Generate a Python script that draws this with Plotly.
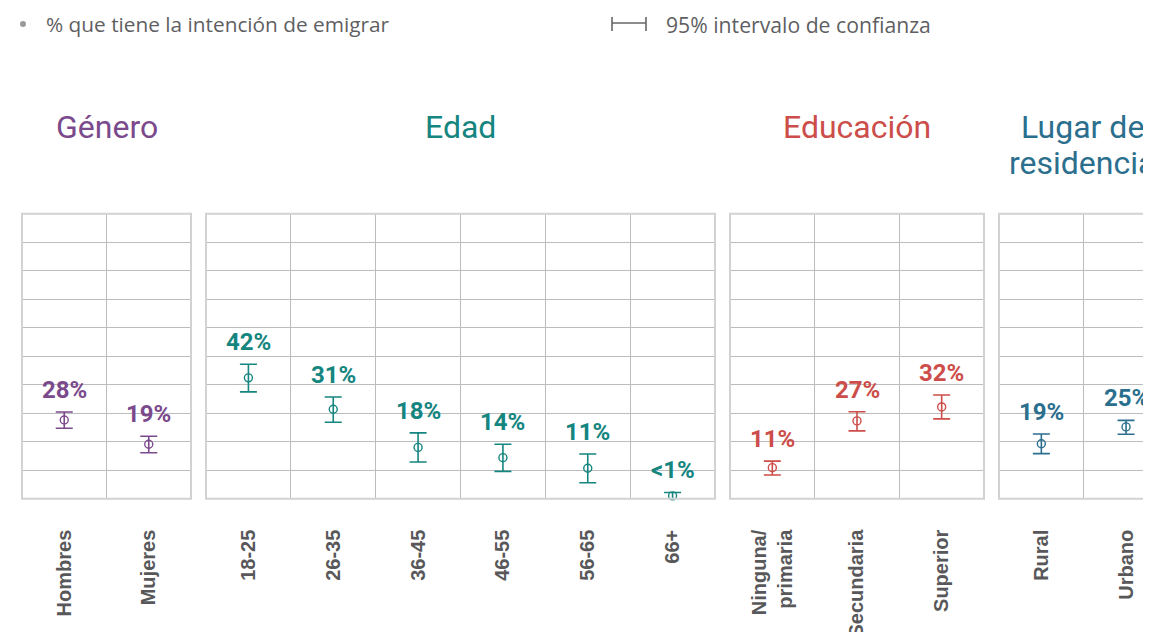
import plotly.graph_objects as go

PAGE_W, PAGE_H = 1151, 632
OFF = 8  # compensates the page's default body margin
W, H = PAGE_W + OFF, PAGE_H

# ---------------- data ----------------
group_titles = ["Género", "Edad", "Educación", "Lugar de residencia"]
group_colors = ["#7b4a8c", "#14857f", "#cc4d49", "#2b6f8e"]

cat_genero = ["Hombres", "Mujeres"]
val_genero = [27.6, 19.1]
low_genero = [24.7, 16.1]
high_genero = [30.4, 21.9]
lab_genero = ["28%", "19%"]

cat_edad = ["18-25", "26-35", "36-45", "46-55", "56-65", "66+"]
val_edad = [42.4, 31.4, 18.0, 14.4, 10.7, 1.0]
low_edad = [37.5, 26.8, 12.9, 9.6, 5.6, 0.0]
high_edad = [47.2, 35.7, 23.1, 19.1, 15.7, 2.2]
lab_edad = ["42%", "31%", "18%", "14%", "11%", "<1%"]

cat_educ = ["Ninguna/<br>primaria", "Secundaria", "Superior"]
val_educ = [10.9, 27.3, 32.2]
low_educ = [8.3, 23.8, 28.0]
high_educ = [13.2, 30.5, 36.4]
lab_educ = ["11%", "27%", "32%"]

cat_lugar = ["Rural", "Urbano"]
val_lugar = [19.3, 25.2]
low_lugar = [15.8, 22.6]
high_lugar = [22.7, 27.5]
lab_lugar = ["19%", "25%"]

legend_point = "% que tiene la intención de emigrar"
legend_ci = "95% intervalo de confianza"

# ---------------- layout geometry (page pixels) ----------------
panels_px = [(22, 191), (206, 715), (730, 984), (999, 1169)]
plot_top, plot_bot = 213.7, 498.7
col_w = 84.7
VIS_W = PAGE_W  # visible right edge in page pixels

groups = [
    (cat_genero, val_genero, low_genero, high_genero, lab_genero),
    (cat_edad, val_edad, low_edad, high_edad, lab_edad),
    (cat_educ, val_educ, low_educ, high_educ, lab_educ),
    (cat_lugar, val_lugar, low_lugar, high_lugar, lab_lugar),
]

def px(x):
    return (x - OFF) / W

def py(y):
    return 1 - (y - OFF) / H

fig = go.Figure()
annotations = []
shapes = []
border_col = "#d2d2d2"
grid_col = "#bcbcbd"

ydom = [py(plot_bot), py(plot_top)]

for i, ((cats, vals, lows, highs, labs), (x0, x1), title, col) in enumerate(
        zip(groups, panels_px, group_titles, group_colors)):
    n = len(cats)
    idx = list(range(n))
    xa = "x" if i == 0 else f"x{i+1}"
    ya = "y" if i == 0 else f"y{i+1}"
    xr = x1 if x1 <= VIS_W else VIS_W + 4
    fig.add_trace(go.Scatter(
        x=idx, y=vals, xaxis=xa, yaxis=ya, mode="markers",
        marker=dict(symbol="circle-open", size=8, color=col, line=dict(width=1.4, color=col)),
        error_y=dict(type="data", symmetric=False,
                     array=[h - v for h, v in zip(highs, vals)],
                     arrayminus=[v - l for v, l in zip(vals, lows)],
                     color=col, thickness=1.6, width=8.5),
        showlegend=False, hoverinfo="skip", cliponaxis=False,
    ))
    for k in idx:
        annotations.append(dict(
            x=k, y=highs[k], xref=xa, yref=ya, text=labs[k], showarrow=False,
            yanchor="bottom", xanchor="center", yshift=6,
            font=dict(family="Roboto", size=24, color=col, weight="bold"),
        ))
    xmax = -0.5 + (xr - x0) / col_w if x1 > VIS_W else n - 0.5
    axn = "xaxis" if i == 0 else f"xaxis{i+1}"
    ayn = "yaxis" if i == 0 else f"yaxis{i+1}"
    fig.layout[axn] = dict(
        domain=[px(x0), px(xr)], anchor=ya, range=[-0.5, xmax],
        tickmode="array", tickvals=idx, ticktext=cats, tickangle=-90,
        ticks="", showgrid=False, zeroline=False, showline=False,
        ticklabelstandoff=26,
        tickfont=dict(family="Liberation Sans", size=20, color="#58585a", weight="bold"),
        minor=dict(tickmode="array", tickvals=[k + 0.5 for k in idx[:-1]] + ([n - 0.5] if x1 > VIS_W else []),
                   showgrid=True, gridcolor=grid_col, gridwidth=1, ticks=""),
        fixedrange=True,
    )
    fig.layout[ayn] = dict(
        domain=ydom, anchor=xa, range=[0, 100], dtick=10, tick0=0,
        showticklabels=False, ticks="", showgrid=True, gridcolor=grid_col, gridwidth=1,
        zeroline=False, showline=False, fixedrange=True,
    )
    # panel border
    line = dict(color=border_col, width=2)
    if x1 <= VIS_W:
        shapes.append(dict(type="rect", xref="paper", yref="paper",
                           x0=px(x0), x1=px(x1), y0=ydom[0], y1=ydom[1], line=line))
    else:
        shapes.append(dict(type="path", xref="paper", yref="paper",
                           path=f"M {px(VIS_W + 6)},{ydom[1]} L {px(x0)},{ydom[1]} L {px(x0)},{ydom[0]} L {px(VIS_W + 6)},{ydom[0]}",
                           line=line))
    # panel title (the last one wraps on two lines)
    cx = (x0 + x1) / 2
    title_lines = ["Lugar de", "residencia"] if i == 3 else [title]
    for j, t in enumerate(title_lines):
        annotations.append(dict(
            x=px(cx - 2 if i == 3 else cx), y=py(127 + 36 * j), xref="paper", yref="paper",
            text=t, showarrow=False, xanchor="center", yanchor="middle",
            font=dict(family="Roboto", size=32, color=col),
        ))

# legend
shapes.append(dict(type="circle", xref="paper", yref="paper",
                   x0=px(20), x1=px(26), y0=py(21), y1=py(27),
                   fillcolor="#9a9a9a", line=dict(width=0)))
lg = dict(color="#666666", width=1.6)
shapes.append(dict(type="line", xref="paper", yref="paper", x0=px(612), x1=px(612), y0=py(17), y1=py(31), line=lg))
shapes.append(dict(type="line", xref="paper", yref="paper", x0=px(646), x1=px(646), y0=py(17), y1=py(31), line=lg))
shapes.append(dict(type="line", xref="paper", yref="paper", x0=px(612), x1=px(646), y0=py(23), y1=py(23), line=lg))
annotations.append(dict(x=px(44), y=py(24), xref="paper", yref="paper", text=legend_point,
                        showarrow=False, xanchor="left", yanchor="middle",
                        font=dict(family="Open Sans", size=20.8, color="#5f5f63")))
annotations.append(dict(x=px(664), y=py(24), xref="paper", yref="paper", text=legend_ci,
                        showarrow=False, xanchor="left", yanchor="middle",
                        font=dict(family="Open Sans", size=21.2, color="#5f5f63")))

fig.update_layout(
    width=W, height=H, margin=dict(l=0, r=0, t=0, b=0),
    paper_bgcolor="white", plot_bgcolor="white",
    annotations=annotations, shapes=shapes, showlegend=False,
)

fig.write_html("out.html", config={"displayModeBar": False})
